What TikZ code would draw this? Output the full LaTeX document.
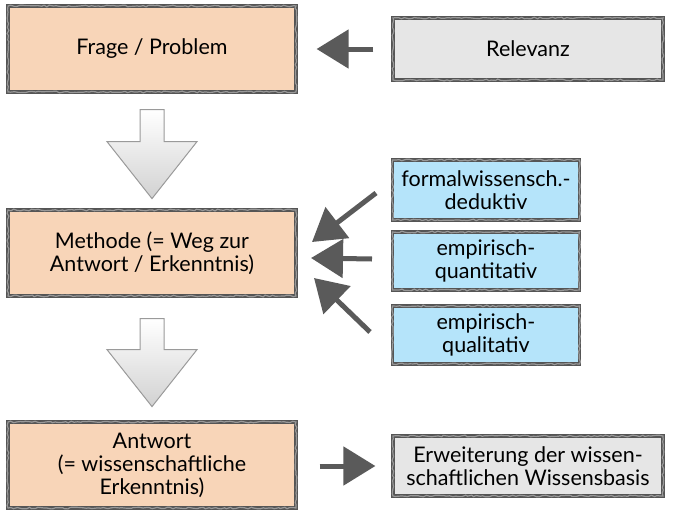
\documentclass[tikz,border=0pt]{standalone}
\usepackage{fontspec}
\setmainfont{Lato}
\usetikzlibrary{arrows.meta,shadows,decorations.pathmorphing,calc}
\definecolor{peach}{HTML}{F8D5B8}
\definecolor{skyb}{HTML}{B5E4FA}
\definecolor{lgray}{HTML}{E6E6E6}
\definecolor{bordergray}{HTML}{555555}
\definecolor{arrgray}{HTML}{5A5A5A}
\definecolor{dagray}{HTML}{9A9A9A}
\begin{document}
\begin{tikzpicture}[x=1pt,y=-1pt,
  box/.style={rectangle, draw=bordergray, line width=3.2pt, align=center, inner sep=0pt,
    font=\fontsize{21.5}{23}\selectfont,
    drop shadow={shadow xshift=1.5pt, shadow yshift=-1.5pt, opacity=0.25},
    postaction={draw=bordergray!60, line width=1.2pt, decorate,
      decoration={random steps, segment length=3pt, amplitude=0.9pt}}},
  orangebox/.style={box, fill=peach, minimum width=288pt, minimum height=86pt},
  graybox/.style={box, fill=lgray, minimum width=270pt},
  bluebox/.style={box, fill=skyb, minimum width=187pt},
  arr/.style={draw=arrgray, line width=5pt, -{Triangle[width=38pt,length=32pt]}},
  downarr/.style={draw=dagray, line width=1pt, top color=white, bottom color=lgray!80!gray}
]
\useasboundingbox (0,0) rectangle (686,517);

\node[orangebox] (frage) at (152,49) {Frage / Problem};
\node[graybox, minimum height=62pt] (relev) at (528,49) {Relevanz};
\node[bluebox, minimum height=60pt] (formal) at (486,190) {formalwissensch.-\\deduktiv};
\node[orangebox] (methode) at (152,253) {Methode (= Weg zur\\Antwort / Erkenntnis)};
\node[bluebox, minimum height=58pt] (quant) at (486,261) {empirisch-\\quantitativ};
\node[bluebox, minimum height=58pt] (qual) at (486,335) {empirisch-\\qualitativ};
\node[orangebox] (antwort) at (152,465) {Antwort\\(= wissenschaftliche\\Erkenntnis)};
\node[graybox, minimum height=60pt] (erw) at (528,466) {Erweiterung der wissen-\\schaftlichen Wissensbasis};

% block arrows
\path[downarr] ($(frage.south)+(-12,16)$) -- ($(frage.south)+(12,16)$) -- ($(frage.south)+(12,48)$)
  -- ($(frage.south)+(45,48)$) -- ($(frage.south)+(0,105)$) -- ($(frage.south)+(-45,48)$)
  -- ($(frage.south)+(-12,48)$) -- cycle;
\path[downarr] ($(methode.south)+(-12,21)$) -- ($(methode.south)+(12,21)$) -- ($(methode.south)+(12,52)$)
  -- ($(methode.south)+(45,52)$) -- ($(methode.south)+(0,109)$) -- ($(methode.south)+(-45,52)$)
  -- ($(methode.south)+(-12,52)$) -- cycle;

% connectors
\draw[arr, shorten <=18pt, shorten >=19pt] (relev.west) -- (relev.west -| frage.east);
\draw[arr, shorten <=22pt, shorten >=16pt] (antwort.east |- erw.west) -- (erw.west);

\coordinate (t1) at (376,193);
\coordinate (h1) at (312,242);
\coordinate (t2) at (372,259);
\coordinate (h2) at (311,258);
\coordinate (t3) at (370,332);
\coordinate (h3) at (314,278);
\draw[arr] (t1) -- (h1);
\draw[arr] (t2) -- (h2);
\draw[arr] (t3) -- (h3);
\end{tikzpicture}
\end{document}
